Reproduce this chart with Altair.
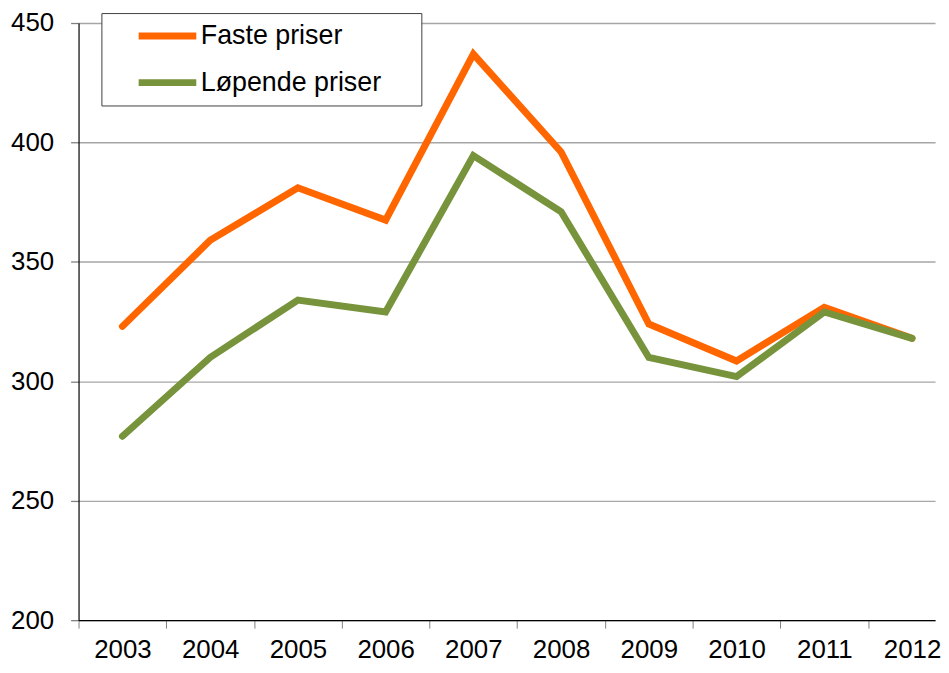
import altair as alt
import pandas as pd

years = [2003, 2004, 2005, 2006, 2007, 2008, 2009, 2010, 2011, 2012]
faste = [323, 359, 381, 367.5, 437, 396, 324, 308.5, 331, 318]
lopende = [277, 310, 334, 329, 394.5, 371, 310, 302, 329, 318]
series = ["Faste priser", "Løpende priser"]
colors = ["#FF6600", "#77933C"]
y_ticks = [200, 250, 300, 350, 400, 450]
x_bounds = [2002.5, 2003.5, 2004.5, 2005.5, 2006.5, 2007.5, 2008.5, 2009.5, 2010.5, 2011.5]

rows = []
for y, a, b in zip(years, faste, lopende):
    rows.append({"year": y, "serie": series[0], "verdi": a})
    rows.append({"year": y, "serie": series[1], "verdi": b})
df = pd.DataFrame(rows)

W = 862
band = 88.3
x_max = 2002.5 + W / band

chart = alt.Chart(df).mark_line(strokeWidth=7, strokeCap="round", strokeJoin="miter").encode(
    x=alt.X("year:Q", title=None,
            scale=alt.Scale(domain=[2002.5, x_max], nice=False, zero=False),
            axis=alt.Axis(values=x_bounds, grid=False, domainColor="#000000", domainWidth=1.2,
                          tickColor="#808080", tickSize=8, tickWidth=1,
                          labelExpr="format(datum.value + 0.5, 'd')", labelOffset=band / 2,
                          labelFontSize=26, labelColor="#000000", labelFont="Liberation Sans",
                          labelPadding=9, labelFlush=False, labelOverlap=False)),
    y=alt.Y("verdi:Q", title=None,
            scale=alt.Scale(domain=[200, 450], nice=False, zero=False),
            axis=alt.Axis(values=y_ticks, grid=True, gridColor="#A6A6A6", gridWidth=1.3,
                          domainColor="#000000", domainWidth=1.2,
                          tickColor="#808080", tickSize=8, tickWidth=1.3,
                          labelFontSize=26, labelColor="#000000", labelFont="Liberation Sans",
                          labelPadding=17, minExtent=71, maxExtent=71)),
    color=alt.Color("serie:N", scale=alt.Scale(domain=series, range=colors),
                    legend=alt.Legend(title=None, orient="none", legendX=23, legendY=-10,
                                      symbolType="stroke", symbolSize=3364, symbolStrokeWidth=7,
                                      symbolOffset=34, clipHeight=46,
                                      labelFontSize=27, labelFont="Liberation Sans", labelColor="#000000",
                                      labelOffset=1,
                                      labelExpr="datum.label + '\u2800\u2800'",
                                      labelLimit=500,
                                      strokeColor="#404040", fillColor="#FFFFFF", padding=0,
                                      rowPadding=1)),
).properties(
    width=W, height=601,
    padding={"left": 0, "top": 0, "right": 0, "bottom": 0},
).configure_view(stroke=None)

chart.save("out.html", embed_options={"renderer": "svg", "actions": False})
